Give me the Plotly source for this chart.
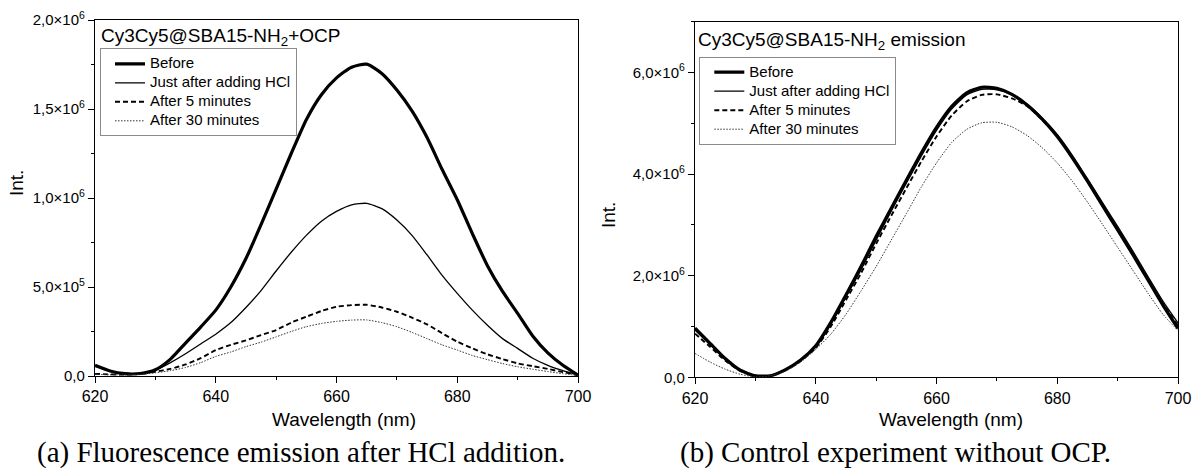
import plotly.graph_objects as go

# ---------------- data (intensity in units of 10^6) ----------------
wavelength = [620, 622.5, 625, 627.5, 630, 632.5, 635, 637.5, 640, 642.5, 645, 647.5,
              650, 652.5, 655, 657.5, 660, 662.5, 665, 667.5, 670, 672.5, 675, 677.5,
              680, 682.5, 685, 687.5, 690, 692.5, 695, 697.5, 700]

series_names = ["Before", "Just after adding HCl", "After 5 minutes", "After 30 minutes"]

# (a) Cy3Cy5@SBA15-NH2+OCP
a_before = [0.060, 0.028, 0.013, 0.014, 0.035, 0.095, 0.185, 0.275, 0.37, 0.50, 0.66, 0.85,
            1.05, 1.25, 1.44, 1.58, 1.675, 1.735, 1.752, 1.70, 1.607, 1.49, 1.34, 1.16,
            0.99, 0.80, 0.62, 0.475, 0.352, 0.225, 0.13, 0.06, 0.005]
a_just = [0.055, 0.028, 0.014, 0.013, 0.032, 0.075, 0.125, 0.18, 0.235, 0.30, 0.385, 0.48,
          0.59, 0.695, 0.79, 0.87, 0.925, 0.962, 0.970, 0.94, 0.876, 0.79, 0.68, 0.565,
          0.464, 0.37, 0.285, 0.21, 0.155, 0.10, 0.06, 0.03, 0.005]
a_5min = [0.012, 0.009, 0.008, 0.012, 0.024, 0.04, 0.065, 0.10, 0.145, 0.175, 0.20, 0.23,
          0.258, 0.30, 0.333, 0.365, 0.389, 0.398, 0.40, 0.385, 0.361, 0.328, 0.29, 0.24,
          0.193, 0.155, 0.122, 0.095, 0.071, 0.055, 0.04, 0.022, 0.005]
a_30min = [0.010, 0.007, 0.006, 0.009, 0.018, 0.03, 0.048, 0.075, 0.11, 0.135, 0.165, 0.19,
           0.22, 0.25, 0.277, 0.295, 0.307, 0.314, 0.315, 0.30, 0.277, 0.245, 0.21, 0.175,
           0.146, 0.115, 0.092, 0.07, 0.052, 0.038, 0.025, 0.013, 0.003]

# (b) Cy3Cy5@SBA15-NH2 emission (control)
b_before = [0.97, 0.67, 0.37, 0.14, 0.03, 0.03, 0.15, 0.34, 0.62, 1.08, 1.62, 2.18,
            2.77, 3.33, 3.88, 4.42, 4.92, 5.33, 5.60, 5.71, 5.69, 5.57, 5.36, 5.08,
            4.74, 4.32, 3.86, 3.38, 2.90, 2.42, 1.92, 1.42, 0.96]
b_just = [0.93, 0.64, 0.35, 0.13, 0.03, 0.03, 0.14, 0.33, 0.60, 1.04, 1.58, 2.12,
          2.70, 3.27, 3.82, 4.36, 4.86, 5.28, 5.56, 5.67, 5.66, 5.56, 5.38, 5.11,
          4.78, 4.37, 3.91, 3.44, 2.97, 2.49, 1.99, 1.50, 1.07]
b_5min = [0.86, 0.60, 0.33, 0.12, 0.03, 0.03, 0.14, 0.32, 0.58, 1.00, 1.52, 2.05,
          2.63, 3.18, 3.72, 4.25, 4.74, 5.15, 5.43, 5.56, 5.57, 5.49, 5.34, 5.07,
          4.74, 4.33, 3.87, 3.40, 2.92, 2.44, 1.95, 1.45, 1.02]
b_30min = [0.47, 0.30, 0.16, 0.06, 0.01, 0.03, 0.12, 0.30, 0.55, 0.85, 1.24, 1.70,
           2.18, 2.70, 3.22, 3.75, 4.22, 4.62, 4.88, 5.01, 5.02, 4.93, 4.76, 4.52,
           4.22, 3.86, 3.45, 3.01, 2.56, 2.11, 1.66, 1.24, 0.92]

ya_ticks = [0, 5e5, 1e6, 1.5e6, 2e6]
ya_labels = ["0,0", "5,0×10<sup>5</sup>", "1,0×10<sup>6</sup>", "1,5×10<sup>6</sup>", "2,0×10<sup>6</sup>"]
yb_ticks = [0, 2e6, 4e6, 6e6]
yb_labels = ["0,0", "2,0×10<sup>6</sup>", "4,0×10<sup>6</sup>", "6,0×10<sup>6</sup>"]
x_ticks = [620, 640, 660, 680, 700]

# ---------------- styling ----------------
W, H = 1192, 470
SANS = "Liberation Sans, Arial, sans-serif"
SERIF = "Liberation Serif, Times New Roman, serif"

def px(x):
    return x / W

def py(y):
    return 1 - y / H

styles = [
    dict(color="#000000", width=3.2, dash="solid"),
    dict(color="#000000", width=1.3, dash="solid"),
    dict(color="#000000", width=1.9, dash="5px,3px"),
    dict(color="#333333", width=1.0, dash="1.5px,1.5px"),
]

fig = go.Figure()

def add_set(xs, ys_list, xa, ya, legend):
    for name, ys, st in zip(series_names, ys_list, styles):
        fig.add_trace(go.Scatter(
            x=xs, y=[v * 1e6 for v in ys], mode="lines",
            name="<span style='font-size:15px'>" + name + "</span>",
            line=dict(color=st["color"], width=st["width"], dash=st["dash"],
                      shape="spline", smoothing=0.6),
            xaxis=xa, yaxis=ya, legend=legend, hoverinfo="skip"))

add_set(wavelength, [a_before, a_just, a_5min, a_30min], "x", "y", "legend")
add_set(wavelength, [b_before, b_just, b_5min, b_30min], "x2", "y2", "legend2")

axis_common = dict(showline=True, linecolor="#000", linewidth=1.3, mirror=True,
                   ticks="outside", ticklen=6, tickwidth=1.2, tickcolor="#000",
                   showgrid=False, zeroline=False, automargin=False)
xfont = dict(family=SANS, size=16, color="#000")
yfont = dict(family=SANS, size=15, color="#000")

fig.update_layout(
    width=W, height=H, margin=dict(l=0, r=0, t=0, b=0, autoexpand=False),
    paper_bgcolor="white", plot_bgcolor="white",
    font=dict(family=SANS, color="#000"),
    xaxis=dict(domain=[px(95), px(578)], anchor="y", range=[620, 700],
               tickvals=x_ticks, tickfont=xfont,
               minor=dict(ticks="outside", ticklen=3, dtick=10, tick0=620, tickcolor="#000"),
               **axis_common),
    yaxis=dict(domain=[py(376), py(20)], anchor="x", range=[0, 2e6],
               tickvals=ya_ticks, ticktext=ya_labels, tickfont=yfont,
               minor=dict(ticks="outside", ticklen=3, dtick=2.5e5, tick0=0, tickcolor="#000"),
               **axis_common),
    xaxis2=dict(domain=[px(695), px(1178)], anchor="y2", range=[620, 700],
                tickvals=x_ticks, tickfont=xfont,
                minor=dict(ticks="outside", ticklen=3, dtick=10, tick0=620, tickcolor="#000"),
                **axis_common),
    yaxis2=dict(domain=[py(377.3), py(21.7)], anchor="x2", range=[0, 7e6],
                tickvals=yb_ticks, ticktext=yb_labels, tickfont=yfont,
                minor=dict(ticks="outside", ticklen=3, dtick=1e6, tick0=0, tickcolor="#000"),
                **axis_common),
    legend=dict(x=px(100), y=py(48.3), xanchor="left", yanchor="top",
                bgcolor="rgba(255,255,255,1)", bordercolor="#8a8a8a", borderwidth=1,
                font=dict(family=SANS, size=12, color="#000"), indentation=9,
                tracegroupgap=0),
    legend2=dict(x=px(699.3), y=py(56.7), xanchor="left", yanchor="top",
                 bgcolor="rgba(255,255,255,1)", bordercolor="#8a8a8a", borderwidth=1,
                 font=dict(family=SANS, size=12, color="#000"), indentation=9,
                 tracegroupgap=0),
    showlegend=True,
)

annotations = [
    # panel titles
    dict(text="Cy3Cy5@SBA15-NH<sub>2</sub>+OCP", x=px(99), y=py(37), xanchor="left",
         yanchor="middle", font=dict(family=SANS, size=19, color="#000")),
    dict(text="Cy3Cy5@SBA15-NH<sub>2</sub> emission", x=px(696), y=py(41), xanchor="left",
         yanchor="middle", font=dict(family=SANS, size=19, color="#000")),
    # axis titles
    dict(text="Wavelength (nm)", x=px(344), y=py(419), xanchor="center", yanchor="middle",
         font=dict(family=SANS, size=19, color="#000")),
    dict(text="Wavelength (nm)", x=px(951), y=py(419), xanchor="center", yanchor="middle",
         font=dict(family=SANS, size=19, color="#000")),
    dict(text="Int.", x=px(16), y=py(183), xanchor="center", yanchor="middle", textangle=-90,
         font=dict(family=SANS, size=19, color="#000")),
    dict(text="Int.", x=px(609), y=py(215), xanchor="center", yanchor="middle", textangle=-90,
         font=dict(family=SANS, size=19, color="#000")),
    # captions
    dict(text="(a) Fluorescence emission after HCl addition.", x=px(301), y=py(452),
         xanchor="center", yanchor="middle", font=dict(family=SERIF, size=29, color="#000")),
    dict(text="(b) Control experiment without OCP.", x=px(895), y=py(452),
         xanchor="center", yanchor="middle", font=dict(family=SERIF, size=29, color="#000")),
]
for a in annotations:
    a.update(xref="paper", yref="paper", showarrow=False)
fig.update_layout(annotations=annotations)

fig.write_html("out.html")
